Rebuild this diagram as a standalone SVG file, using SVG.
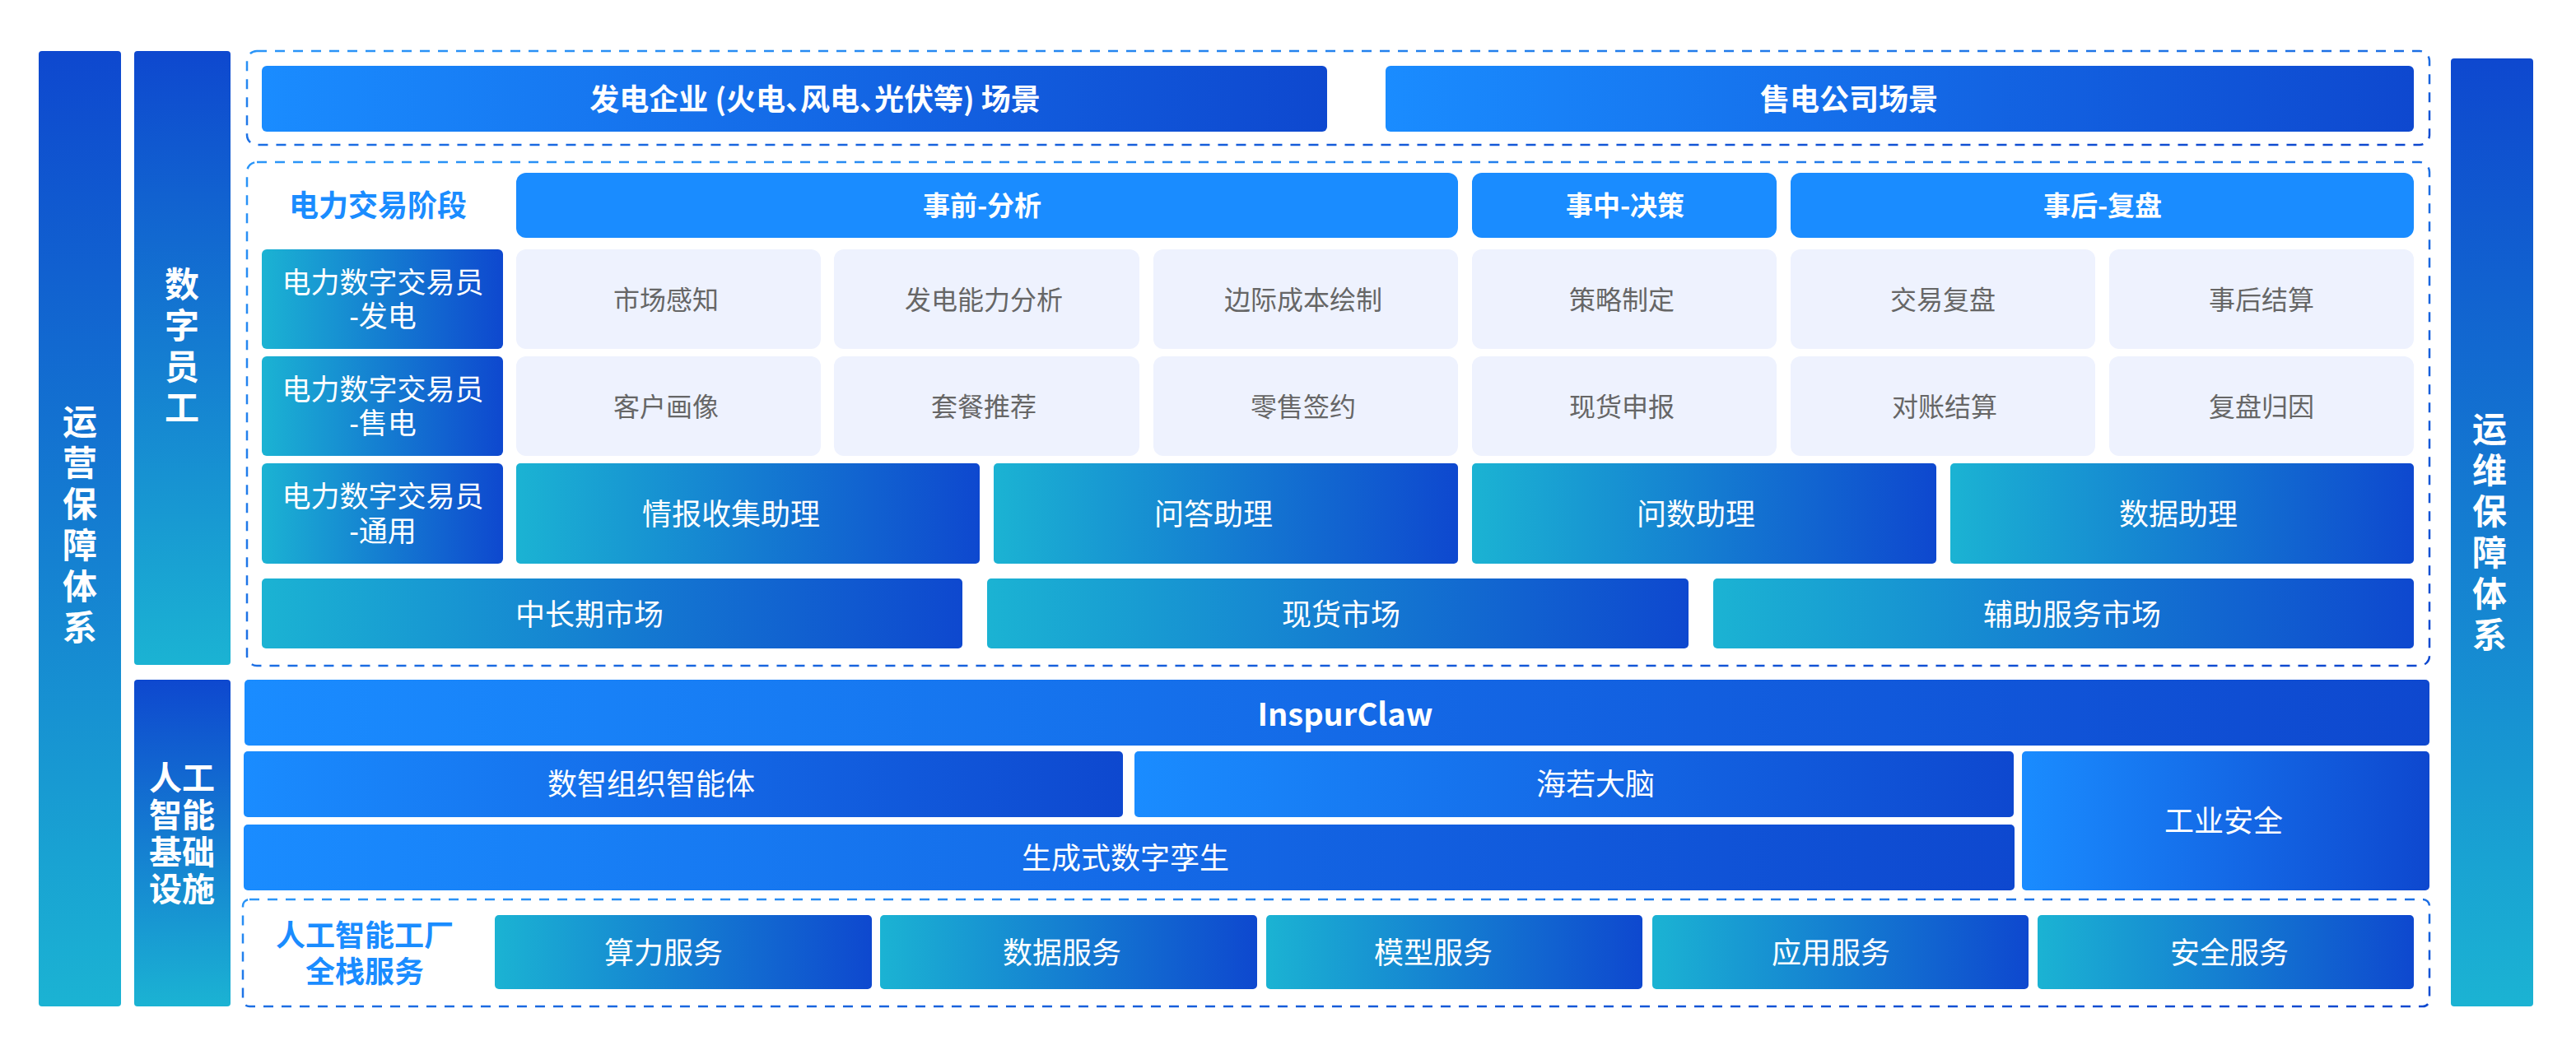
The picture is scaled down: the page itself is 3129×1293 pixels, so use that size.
<svg xmlns="http://www.w3.org/2000/svg" width="3129" height="1293" viewBox="0 0 3129 1293">
<defs>
<linearGradient id="gB" x1="0" y1="0" x2="1" y2="0"><stop offset="0" stop-color="#1A8CFF"/><stop offset="1" stop-color="#0E48CF"/></linearGradient>
<linearGradient id="gC" x1="0" y1="0" x2="1" y2="0"><stop offset="0" stop-color="#1BB3D3"/><stop offset="1" stop-color="#0E48CF"/></linearGradient>
<linearGradient id="gV" x1="0" y1="0" x2="0" y2="1"><stop offset="0" stop-color="#0E48CF"/><stop offset="1" stop-color="#1BB3D3"/></linearGradient>
<linearGradient id="gS" x1="0" y1="0" x2="1" y2="1"><stop offset="0" stop-color="#2A95F8"/><stop offset="1" stop-color="#0E48CF"/></linearGradient>
<style>
text{font-family:"Noto Sans CJK SC","Noto Sans",sans-serif;text-anchor:middle}
.w{fill:#fff;font-size:36px}
.wb{fill:#fff;font-size:36px;font-weight:700}
.vb{fill:#fff;font-size:42px;font-weight:700;writing-mode:vertical-rl;letter-spacing:8px}
.vb2{fill:#fff;font-size:40px;font-weight:700;writing-mode:vertical-rl;letter-spacing:5px}
.ph{fill:#fff;font-size:33px;font-weight:700}
.lb{fill:#1A8CFF;font-size:36px;font-weight:700}
.lb2{fill:#1A8CFF;font-size:36px;font-weight:700;font-family:"Liberation Sans","Noto Sans CJK SC",sans-serif}
.g{fill:#666;font-size:32px}
.r{fill:#fff;font-size:35px;font-family:"Liberation Sans","Noto Sans CJK SC",sans-serif}
.cell{fill:#EEF2FE}
.dash{fill:none;stroke:url(#gS);stroke-width:2.5;stroke-dasharray:12 10}
</style>
</defs>
<rect width="3129" height="1293" fill="#fff"/>

<g id="ops-bar">
<rect x="47" y="62" width="100" height="1161" rx="4" fill="url(#gV)"/>
<text class="vb" x="97" y="641">运营保障体系</text>
</g>
<g id="digital-staff-bar">
<rect x="163" y="62" width="117" height="746" rx="4" fill="url(#gV)"/>
<text class="vb" x="221" y="424">数字员工</text>
</g>
<g id="ai-infra-bar">
<rect x="163" y="826" width="117" height="397" rx="4" fill="url(#gV)"/>
<text class="vb2" x="201" y="1015">人智基设</text>
<text class="vb2" x="241" y="1015">工能础施</text>
</g>
<g id="om-bar">
<rect x="2977" y="71" width="100" height="1152" rx="4" fill="url(#gV)"/>
<text class="vb" x="3024" y="650">运维保障体系</text>
</g>

<g id="scenario-zone">
<rect class="dash" x="300" y="62" width="2651" height="114" rx="12"/>
<g id="gen-scenario"><rect x="318" y="80" width="1294" height="80" rx="6" fill="url(#gB)"/><text class="wb" style="font-feature-settings:'palt'" x="990" y="134">发电企业 (火电、风电、光伏等) 场景</text></g>
<g id="retail-scenario"><rect x="1683" y="80" width="1249" height="80" rx="6" fill="url(#gB)"/><text class="wb" x="2246" y="134">售电公司场景</text></g>
</g>

<g id="trading-zone">
<rect class="dash" x="300" y="197" width="2651" height="612" rx="12"/>
<text id="stage-label" class="lb" x="459" y="263">电力交易阶段</text>
<g id="phase-pre"><rect x="627" y="210" width="1144" height="79" rx="12" fill="#1A8CFF"/><text class="ph" x="1193" y="262">事前-分析</text></g>
<g id="phase-mid"><rect x="1788" y="210" width="370" height="79" rx="12" fill="#1A8CFF"/><text class="ph" x="1974" y="262">事中-决策</text></g>
<g id="phase-post"><rect x="2175" y="210" width="757" height="79" rx="12" fill="#1A8CFF"/><text class="ph" x="2554" y="262">事后-复盘</text></g>

<g id="role-gen"><rect x="318" y="303" width="293" height="121" rx="6" fill="url(#gC)"/><text class="r"><tspan x="465" y="356">电力数字交易员</tspan><tspan x="465" y="397">-发电</tspan></text></g>
<g id="role-sale"><rect x="318" y="433" width="293" height="121" rx="6" fill="url(#gC)"/><text class="r"><tspan x="465" y="486">电力数字交易员</tspan><tspan x="465" y="527">-售电</tspan></text></g>
<g id="role-general"><rect x="318" y="563" width="293" height="122" rx="6" fill="url(#gC)"/><text class="r"><tspan x="465" y="616">电力数字交易员</tspan><tspan x="465" y="658">-通用</tspan></text></g>

<g id="c11"><rect class="cell" x="627" y="303" width="370" height="121" rx="12"/><text class="g" x="809" y="376">市场感知</text></g>
<g id="c12"><rect class="cell" x="1013" y="303" width="371" height="121" rx="12"/><text class="g" x="1195" y="376">发电能力分析</text></g>
<g id="c13"><rect class="cell" x="1401" y="303" width="370" height="121" rx="12"/><text class="g" x="1583" y="376">边际成本绘制</text></g>
<g id="c14"><rect class="cell" x="1788" y="303" width="370" height="121" rx="12"/><text class="g" x="1970" y="376">策略制定</text></g>
<g id="c15"><rect class="cell" x="2175" y="303" width="370" height="121" rx="12"/><text class="g" x="2360" y="376">交易复盘</text></g>
<g id="c16"><rect class="cell" x="2562" y="303" width="370" height="121" rx="12"/><text class="g" x="2747" y="376">事后结算</text></g>

<g id="c21"><rect class="cell" x="627" y="433" width="370" height="121" rx="12"/><text class="g" x="809" y="506">客户画像</text></g>
<g id="c22"><rect class="cell" x="1013" y="433" width="371" height="121" rx="12"/><text class="g" x="1195" y="506">套餐推荐</text></g>
<g id="c23"><rect class="cell" x="1401" y="433" width="370" height="121" rx="12"/><text class="g" x="1583" y="506">零售签约</text></g>
<g id="c24"><rect class="cell" x="1788" y="433" width="370" height="121" rx="12"/><text class="g" x="1970" y="506">现货申报</text></g>
<g id="c25"><rect class="cell" x="2175" y="433" width="370" height="121" rx="12"/><text class="g" x="2362" y="506">对账结算</text></g>
<g id="c26"><rect class="cell" x="2562" y="433" width="370" height="121" rx="12"/><text class="g" x="2747" y="506">复盘归因</text></g>

<g id="a1"><rect x="627" y="563" width="563" height="122" rx="5" fill="url(#gC)"/><text class="w" x="888" y="638">情报收集助理</text></g>
<g id="a2"><rect x="1207" y="563" width="564" height="122" rx="5" fill="url(#gC)"/><text class="w" x="1474" y="638">问答助理</text></g>
<g id="a3"><rect x="1788" y="563" width="564" height="122" rx="5" fill="url(#gC)"/><text class="w" x="2060" y="638">问数助理</text></g>
<g id="a4"><rect x="2369" y="563" width="563" height="122" rx="5" fill="url(#gC)"/><text class="w" x="2646" y="638">数据助理</text></g>

<g id="m1"><rect x="318" y="703" width="851" height="85" rx="5" fill="url(#gC)"/><text class="w" x="716" y="760">中长期市场</text></g>
<g id="m2"><rect x="1199" y="703" width="852" height="85" rx="5" fill="url(#gC)"/><text class="w" x="1629" y="760">现货市场</text></g>
<g id="m3"><rect x="2081" y="703" width="851" height="85" rx="5" fill="url(#gC)"/><text class="w" x="2517" y="760">辅助服务市场</text></g>
</g>

<g id="ai-zone">
<g id="inspurclaw"><rect x="297" y="826" width="2654" height="80" rx="5" fill="url(#gB)"/><text class="wb" style="font-size:38px" x="1634" y="882">InspurClaw</text></g>
<g id="agent"><rect x="296" y="913" width="1068" height="80" rx="5" fill="url(#gB)"/><text class="w" x="791" y="966">数智组织智能体</text></g>
<g id="brain"><rect x="1378" y="913" width="1068" height="80" rx="5" fill="url(#gB)"/><text class="w" x="1938" y="966">海若大脑</text></g>
<g id="security"><rect x="2456" y="913" width="495" height="169" rx="5" fill="url(#gB)"/><text class="w" x="2701" y="1011">工业安全</text></g>
<g id="twin"><rect x="296" y="1002" width="2151" height="80" rx="5" fill="url(#gB)"/><text class="w" x="1367" y="1056">生成式数字孪生</text></g>
</g>

<g id="factory-zone">
<rect class="dash" x="295" y="1093" width="2656" height="130" rx="8"/>
<text id="factory-label" class="lb2"><tspan x="443" y="1150">人工智能工厂</tspan><tspan x="443" y="1194">全栈服务</tspan></text>
<g id="s1"><rect x="601" y="1112" width="458" height="90" rx="5" fill="url(#gC)"/><text class="w" x="806" y="1171">算力服务</text></g>
<g id="s2"><rect x="1069" y="1112" width="458" height="90" rx="5" fill="url(#gC)"/><text class="w" x="1290" y="1171">数据服务</text></g>
<g id="s3"><rect x="1538" y="1112" width="457" height="90" rx="5" fill="url(#gC)"/><text class="w" x="1741" y="1171">模型服务</text></g>
<g id="s4"><rect x="2007" y="1112" width="457" height="90" rx="5" fill="url(#gC)"/><text class="w" x="2224" y="1171">应用服务</text></g>
<g id="s5"><rect x="2475" y="1112" width="457" height="90" rx="5" fill="url(#gC)"/><text class="w" x="2708" y="1171">安全服务</text></g>
</g>
</svg>
